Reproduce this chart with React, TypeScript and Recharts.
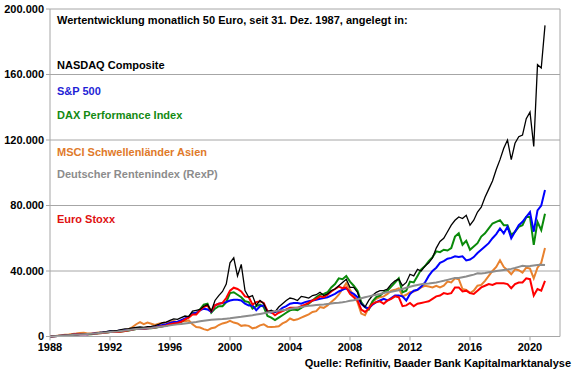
import React from "react";
import {
  LineChart,
  Line,
  XAxis,
  YAxis,
  CartesianGrid,
  ReferenceLine,
} from "recharts";

// quarterly points, 1988 Q1 .. 2021 Q1 (values in thousand euro)
const quarters = Array.from({ length: 133 }, (_, i) => 1988 + i / 4);

const nasdaq = [
  0, 0.15, 0.3, 0.45, 0.6, 0.8, 1.0, 1.2, 1.3, 1.5, 1.3, 1.5, 1.9, 2.3, 2.6, 3.0,
  3.4, 3.5, 3.7, 4.2, 4.6, 4.8, 5.2, 5.6, 5.8, 5.6, 6.0, 6.2, 6.6, 7.4, 8.4, 8.8,
  9.8, 10.8, 10.5, 11.5, 12.5, 12.2, 15.5, 16.0, 16.5, 18.5, 19.5, 15.5, 22.0, 25.0, 27.5, 32.0,
  45.0, 48.0, 37.0, 44.0, 28.0, 24.0, 25.0, 19.0, 22.0, 20.0, 15.0, 16.0, 15.0, 18.0, 20.0, 22.0,
  23.5, 23.0, 22.0, 24.5, 24.0, 23.5, 25.0, 25.5, 27.0, 25.0, 26.0, 28.0, 29.0, 31.0, 33.0, 35.0,
  30.0, 30.0, 27.0, 20.0, 18.0, 22.0, 25.0, 27.0, 28.0, 28.0, 29.0, 32.0, 34.0, 35.0, 31.0, 33.0,
  38.0, 37.0, 41.0, 40.0, 43.0, 45.0, 48.0, 54.0, 58.0, 60.0, 64.0, 68.0, 71.0, 73.0, 72.0, 74.0,
  68.0, 71.0, 76.0, 79.0, 85.0, 90.0, 95.0, 102.0, 108.0, 115.0, 120.0, 108.0, 118.0, 122.0, 123.0, 133.0,
  137.0, 116.0, 166.0, 164.0, 190.0,
];

const sp500 = [
  0, 0.15, 0.3, 0.45, 0.6, 0.8, 1.0, 1.2, 1.3, 1.5, 1.4, 1.6, 2.0, 2.2, 2.4, 2.7,
  3.0, 3.1, 3.3, 3.6, 3.9, 4.1, 4.4, 4.7, 4.9, 4.8, 5.1, 5.3, 5.8, 6.4, 7.0, 7.5,
  8.2, 8.8, 9.0, 10.0, 11.0, 12.0, 14.0, 14.5, 16.0, 17.0, 16.5, 15.0, 19.0, 20.0, 20.5, 21.0,
  22.0, 22.5, 22.5, 22.0, 20.0, 19.0, 19.0, 16.0, 18.5, 19.0, 15.5, 14.5, 15.0, 15.5, 17.5, 18.5,
  20.0, 20.5, 20.5, 20.0, 21.0, 21.5, 22.0, 22.5, 23.0, 23.5, 24.0, 25.0, 26.0, 27.5, 28.5, 29.5,
  27.0, 26.0, 24.0, 20.0, 18.0, 17.0, 19.5, 21.0, 22.0, 23.0, 22.0, 23.5, 25.0, 25.0, 24.5, 22.0,
  26.0, 28.0, 28.5, 30.5, 33.0, 37.0, 40.0, 42.0, 45.0, 46.0, 47.5, 48.0, 49.0, 48.5, 49.0, 46.5,
  47.0, 48.5, 51.0, 53.0, 55.0, 57.0, 60.0, 62.5, 66.0, 63.0, 67.0, 60.0, 64.0, 68.0, 70.0, 73.0,
  76.0, 64.0, 77.0, 80.0, 89.5,
];

const dax = [
  0, 0.15, 0.3, 0.45, 0.6, 0.8, 1.0, 1.2, 1.5, 1.6, 1.3, 1.4, 1.7, 2.0, 2.2, 2.4,
  2.8, 3.0, 2.9, 3.1, 3.4, 3.7, 4.1, 4.6, 5.0, 4.8, 5.0, 5.1, 5.4, 5.8, 6.2, 6.6,
  7.4, 8.0, 8.2, 9.0, 10.5, 12.0, 14.5, 14.0, 16.5, 19.5, 20.0, 14.5, 17.0, 18.5, 18.5, 21.0,
  26.5, 27.0, 25.5, 24.0, 21.5, 21.0, 17.0, 18.5, 19.5, 18.0, 12.5, 11.5, 10.0, 11.5, 13.0, 14.5,
  16.0, 16.5, 16.0, 17.5, 19.0, 20.0, 22.0, 24.0, 25.5, 26.0, 27.0, 30.0, 32.0, 35.5, 35.0, 37.0,
  33.5, 31.0, 28.0, 21.0, 18.0, 16.5, 21.5, 24.0, 25.0, 27.0, 28.0, 30.5, 33.0, 35.5, 27.0, 28.0,
  33.5, 33.0, 37.0, 41.0, 43.0, 46.0, 48.5, 52.0, 51.5, 53.0, 52.5, 54.0, 61.0, 63.0, 56.0, 58.5,
  53.0, 55.0, 57.0, 61.0, 63.0, 66.0, 69.0, 70.0, 71.0, 68.0, 68.0, 62.0, 64.0, 67.0, 68.0, 73.0,
  73.0, 56.0, 70.0, 65.0, 75.0,
];

const msciAsia = [
  0, 0.2, 0.5, 0.7, 1.0, 1.2, 1.5, 1.8, 2.2, 2.3, 1.8, 1.9, 2.2, 2.4, 2.5, 2.6,
  2.8, 3.0, 3.0, 3.3, 3.8, 4.5, 5.8, 7.5, 8.8, 7.5, 8.5, 7.8, 7.0, 7.8, 8.3, 8.5,
  9.0, 9.5, 8.8, 9.5, 9.3, 9.8, 7.5, 5.8, 5.5, 4.5, 3.8, 5.0, 5.5, 7.0, 8.0, 8.5,
  9.5, 8.5, 8.0, 6.5, 6.8, 6.5, 5.0, 5.5, 6.8, 7.5, 6.0, 5.8, 6.0, 6.3, 8.0, 9.0,
  11.0, 10.0, 10.5, 11.5, 12.5, 13.5, 15.0, 15.5, 18.0, 17.5, 19.0, 21.0, 23.0, 25.5, 29.0, 32.5,
  28.5, 25.0, 21.0, 14.0, 13.0, 17.5, 21.0, 23.0, 24.0, 24.5, 26.0, 28.0, 28.5, 29.5, 24.5, 25.5,
  27.0, 27.5, 28.5, 30.0, 31.0, 30.5, 30.0, 31.0, 30.0, 31.0, 33.5, 33.0, 35.5, 35.0, 29.0, 28.5,
  26.5, 28.0, 31.0, 31.5, 34.0, 37.0, 40.0, 42.5, 46.5, 42.5, 40.5, 38.0, 41.0, 40.5, 39.0, 42.0,
  41.5, 35.5, 42.0, 45.0, 54.0,
];

const rexp = [
  0, 0.15, 0.3, 0.45, 0.6, 0.75, 0.9, 1.05, 1.2, 1.35, 1.5, 1.7, 1.9, 2.1, 2.3, 2.5,
  2.7, 2.9, 3.1, 3.4, 3.7, 4.0, 4.3, 4.6, 4.8, 4.9, 5.0, 5.2, 5.5, 5.8, 6.1, 6.4,
  6.8, 7.1, 7.4, 7.7, 8.0, 8.3, 8.6, 8.9, 9.3, 9.6, 9.9, 10.2, 10.4, 10.6, 10.7, 10.9,
  11.1, 11.4, 11.7, 12.0, 12.4, 12.7, 13.0, 13.4, 13.8, 14.2, 14.6, 15.0, 15.4, 15.8, 16.1, 16.4,
  16.8, 17.2, 17.6, 18.0, 18.4, 18.7, 19.0, 19.2, 19.4, 19.6, 19.9, 20.2, 20.4, 20.6, 20.9, 21.3,
  21.8, 22.2, 22.7, 23.4, 24.0, 24.5, 25.0, 25.5, 26.0, 26.6, 27.2, 27.4, 27.8, 28.2, 29.0, 29.8,
  30.4, 31.0, 31.5, 31.9, 32.2, 32.4, 32.7, 33.0, 33.5, 34.0, 34.6, 35.2, 35.8, 35.8, 36.2, 36.6,
  37.2, 37.8, 38.6, 38.5, 38.8, 39.2, 39.6, 40.0, 40.3, 40.6, 40.9, 41.3, 41.8, 42.5, 43.2, 42.9,
  43.0, 43.3, 43.6, 43.8, 43.6,
];

const euroStoxx = [
  0, 0.15, 0.3, 0.45, 0.6, 0.8, 1.0, 1.2, 1.4, 1.5, 1.3, 1.5, 1.8, 2.0, 2.2, 2.4,
  2.7, 2.9, 2.8, 3.0, 3.4, 3.8, 4.2, 4.7, 5.0, 4.8, 5.0, 5.2, 5.5, 5.9, 6.3, 6.8,
  7.5, 8.0, 8.3, 9.0, 10.5, 11.5, 13.5, 13.5, 16.0, 18.0, 19.0, 15.5, 19.0, 20.0, 20.5, 23.5,
  28.0, 29.8, 29.0, 27.5, 24.5, 24.0, 19.5, 21.0, 21.5, 20.5, 15.5, 15.0, 13.0, 14.5, 15.5, 16.5,
  17.5, 17.5, 17.5, 18.5, 19.5, 20.5, 22.0, 23.0, 24.5, 24.0, 25.5, 27.5, 29.0, 30.5, 29.5, 30.0,
  26.0, 24.0, 22.0, 16.5, 15.0, 17.0, 20.0, 21.0, 21.5, 20.0, 22.0, 23.0, 24.5, 24.0, 18.5, 19.0,
  20.5, 18.5, 20.0, 20.5, 21.0, 21.5, 23.0, 24.5, 25.0, 26.5, 26.0, 26.5, 30.0, 30.0, 27.5, 28.0,
  26.5, 26.0, 28.0, 30.0, 31.0, 32.0, 31.5, 32.5, 32.5, 32.5, 32.0, 29.5, 32.0, 33.0, 33.0, 35.5,
  35.0, 25.0, 29.0, 28.0, 34.0,
];

const yearTicks = [1988, 1992, 1996, 2000, 2004, 2008, 2012, 2016, 2020];
const valueTicks = [0, 40, 80, 120, 160, 200];

const title = "Wertentwicklung monatlich 50 Euro, seit 31. Dez. 1987, angelegt in:";
const source = "Quelle: Refinitiv, Baader Bank Kapitalmarktanalyse";

const series = [
  { key: "nasdaq", name: "NASDAQ Composite", color: "#000000", text: "#000000", width: 1.3, top: 59 },
  { key: "sp500", name: "S&P 500", color: "#0000ff", text: "#1f1fd6", width: 2, top: 85 },
  { key: "dax", name: "DAX Performance Index", color: "#0a8a0a", text: "#138a13", width: 2, top: 109 },
  { key: "msciAsia", name: "MSCI Schwellenländer Asien", color: "#e8812e", text: "#e07a2a", width: 2, top: 146 },
  { key: "rexp", name: "Deutscher Rentenindex (RexP)", color: "#8c8c8c", text: "#8c8c8c", width: 2, top: 168 },
  { key: "euroStoxx", name: "Euro Stoxx", color: "#ff0000", text: "#e01010", width: 2, top: 213 },
];

const data = quarters.map((t, i) => ({
  t,
  nasdaq: nasdaq[i],
  sp500: sp500[i],
  dax: dax[i],
  msciAsia: msciAsia[i],
  rexp: rexp[i],
  euroStoxx: euroStoxx[i],
}));

const font = '"Liberation Sans", Arial, sans-serif';
const tickStyle = { fill: "#000", fontSize: 11, fontWeight: 700, fontFamily: font };

const drawOrder = ["msciAsia", "dax", "sp500", "euroStoxx", "nasdaq", "rexp"];

export default function App() {
  return (
    <div style={{ position: "absolute", left: 0, top: 0, width: 580, height: 375, background: "#fff", fontFamily: font }}>
      <LineChart width={580} height={375} data={data} margin={{ top: 9, right: 20, left: 0, bottom: 8.5 }}>
        <CartesianGrid vertical={false} stroke="#a6a6a6" strokeWidth={1} />
        <XAxis
          dataKey="t"
          type="number"
          domain={[1988, 2022]}
          ticks={yearTicks}
          tick={tickStyle}
          stroke="#a6a6a6"
          tickSize={4}
          tickMargin={3}
          allowDataOverflow
        />
        <YAxis
          type="number"
          domain={[0, 200]}
          ticks={valueTicks}
          tick={tickStyle}
          width={50}
          stroke="#a6a6a6"
          tickSize={4}
          tickMargin={2}
          tickFormatter={(v: number) => (v === 0 ? "0" : `${v}.000`)}
        />
        <ReferenceLine x={2022} stroke="#a6a6a6" />
        {drawOrder.map((k) => {
          const s = series.find((x) => x.key === k)!;
          return (
            <Line
              key={k}
              type="linear"
              dataKey={k}
              stroke={s.color}
              strokeWidth={s.width}
              dot={false}
              isAnimationActive={false}
            />
          );
        })}
      </LineChart>
      <div style={{ position: "absolute", left: 57, top: 14, fontSize: 11, fontWeight: 700, lineHeight: "13px", whiteSpace: "nowrap", color: "#000" }}>
        {title}
      </div>
      {series.map((s) => (
        <div
          key={s.key}
          style={{ position: "absolute", left: 57, top: s.top, fontSize: 11, fontWeight: 700, lineHeight: "13px", whiteSpace: "nowrap", color: s.text }}
        >
          {s.name}
        </div>
      ))}
      <div style={{ position: "absolute", right: 9, top: 357, fontSize: 11, fontWeight: 700, lineHeight: "13px", whiteSpace: "nowrap", color: "#000" }}>
        {source}
      </div>
    </div>
  );
}
